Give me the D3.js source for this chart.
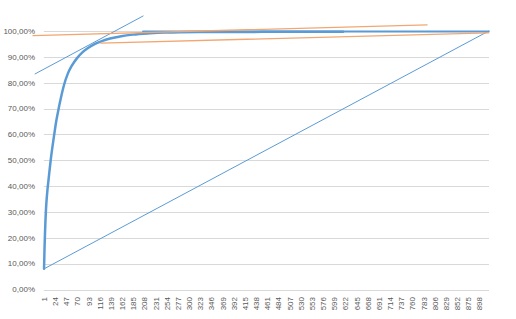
<!DOCTYPE html>
<html><head><meta charset="utf-8">
<script src="https://cdn.jsdelivr.net/npm/d3@7"></script>
<style>html,body{margin:0;padding:0;background:#fff}svg{display:block}</style>
</head><body>
<svg id="chart" width="516" height="319"></svg>
<script>
// ---- data ----
const categoryCount = 917;
const xTickLabels = [1,24,47,70,93,116,139,162,185,208,231,254,277,300,323,346,369,392,415,438,461,484,507,530,553,576,599,622,645,668,691,714,737,760,783,806,829,852,875,898];
const yTicks = [0,0.1,0.2,0.3,0.4,0.5,0.6,0.7,0.8,0.9,1.0];
// cumulative share curve: [category index, value]
const cumulative = [[1,0.08],[2,0.16],[3,0.22],[4,0.27],[5,0.31],[6,0.34],[8,0.385],[10,0.42],[12,0.455],[15,0.505],[18,0.548],[22,0.60],[26,0.65],[30,0.69],[35,0.735],[42,0.79],[50,0.835],[58,0.865],[69,0.895],[80,0.917],[90,0.932],[106,0.95],[120,0.961],[137,0.971],[160,0.98],[184,0.986],[219,0.991],[250,0.994],[281,0.9955],[323,0.996],[617,0.997]];
const topLevel = [[205,0.998],[917,0.998]];
const diagonal = [[1,0.08],[917,1.0]];
const tangentBlue = [[-17.5,0.834],[205,1.058]];
const orangeUpper = [[-21.7,0.982],[790,1.024]];
const orangeLower = [[118,0.953],[917,0.993]];

// ---- layout ----
const svg = d3.select("#chart");
const plotL = 43.8, plotR = 489, plotT = 31, plotB = 289.5;
const x = d3.scaleLinear().domain([0.5, categoryCount + 0.5]).range([plotL, plotR]);
const y = d3.scaleLinear().domain([0, 1]).range([plotB, plotT]);
const loc = d3.formatLocale({decimal: ",", thousands: ".", grouping: [3], currency: ["", ""]});
const fmt = loc.format(".2%");

// gridlines
svg.append("g").selectAll("line").data(yTicks).join("line")
  .attr("x1", plotL).attr("x2", plotR)
  .attr("y1", d => Math.round(y(d)) + 0.5).attr("y2", d => Math.round(y(d)) + 0.5)
  .attr("stroke", "#d9d9d9").attr("stroke-width", 1);

// y labels
svg.append("g").selectAll("text").data(yTicks).join("text")
  .attr("x", 35).attr("y", d => y(d)).attr("dy", "0.35em")
  .attr("text-anchor", "end")
  .attr("font-family", "Liberation Sans, Arial, sans-serif").attr("font-size", 8)
  .attr("fill", "#595959").text(d => fmt(d));

// x labels
svg.append("g").selectAll("text").data(xTickLabels).join("text")
  .attr("transform", d => `translate(${x(d)},297) rotate(-90)`)
  .attr("dy", "0.35em").attr("text-anchor", "end")
  .attr("font-family", "Liberation Sans, Arial, sans-serif").attr("font-size", 8)
  .attr("fill", "#595959").text(d => d);

const line = d3.line().x(d => x(d[0])).y(d => y(d[1]));
const curveLine = d3.line().x(d => x(d[0])).y(d => y(d[1])).curve(d3.curveMonotoneX);

function draw(data, gen, color, w) {
  svg.append("path").datum(data).attr("d", gen)
    .attr("fill", "none").attr("stroke", color).attr("stroke-width", w)
    .attr("stroke-linejoin", "round").attr("stroke-linecap", "round");
}
draw(diagonal, line, "#5B9BD5", 1);
draw(topLevel, line, "#5B9BD5", 2);
draw(cumulative, curveLine, "#5B9BD5", 2.5);
draw(tangentBlue, line, "#5B9BD5", 1);
draw(orangeUpper, line, "#F2A772", 1.3);
draw(orangeLower, line, "#F2A772", 1.3);
</script>
</body></html>
